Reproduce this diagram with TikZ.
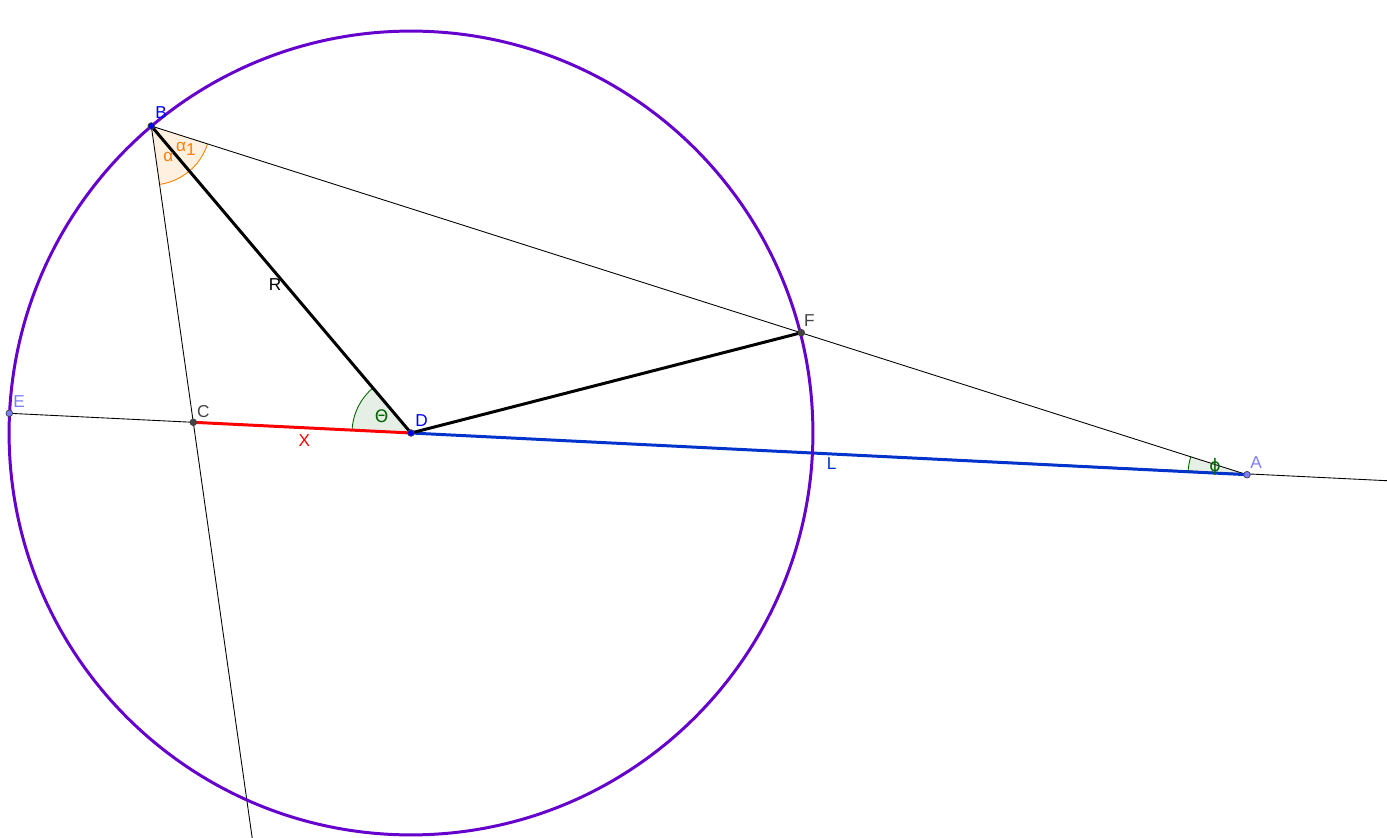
\documentclass[tikz,border=0pt]{standalone}
\usepackage{fontspec}
\setmainfont{Liberation Sans}
\newfontfamily\greekfont{DejaVu Sans}
\usetikzlibrary{angles,positioning}
\definecolor{circlecol}{HTML}{6600CC}
\definecolor{lcol}{HTML}{0033CC}
\definecolor{ptblue}{HTML}{0000FF}
\definecolor{ptlight}{HTML}{7D7DFF}
\definecolor{ptgray}{HTML}{444444}
\definecolor{anggreen}{HTML}{006400}
\definecolor{angorange}{HTML}{FF7F00}

\begin{document}
\begin{tikzpicture}[x=0.02cm, y=-0.02cm, font=\fontsize{9.8}{11}\selectfont]
    \tikzstyle{point}=[shape=circle, draw=black!75, line width=0.4pt, inner sep=0pt, minimum size=3.8pt];
    \tikzstyle{thin}=[black, line width=0.5pt];
    \tikzstyle{seg}=[line width=1.7pt];
    \tikzstyle{angarc}=[angle radius=1.18cm, line width=0.5pt];

    \useasboundingbox (0,0) rectangle (1387,838);

    % points
    \coordinate (D) at (411,433);
    \coordinate (B) at (151.3,126);
    \coordinate (F) at (801.3,332.7);
    \coordinate (A) at (1247,474.7);
    \coordinate (E) at (9.3,413.3);
    \coordinate (C) at (193.3,422.3);
    \coordinate (eright) at (1387,480.7);
    \coordinate (cbot) at (252.2,838);

    % angles
    \pic[angarc, draw=anggreen, fill=anggreen!10] {angle = B--D--C};
    \pic[angarc, draw=anggreen, fill=anggreen!10] {angle = B--A--E};
    \pic[angarc, draw=angorange, fill=angorange!12] {angle = C--B--A};

    % lines
    \draw[thin] (E) -- (eright);
    \draw[thin] (B) -- (A);
    \draw[thin] (B) -- (cbot);

    \draw[seg, red] (C) -- (D);
    \draw[seg, lcol] (D) -- (A);
    \draw[seg, black] (D) -- (B);
    \draw[seg, black] (D) -- (F);

    \draw[circlecol, line width=1.7pt] (D) circle (8.04cm);

    % point marks
    \node[point, fill=ptblue] (pB) at (B) {};
    \node[point, fill=ptblue] (pD) at (D) {};
    \node[point, fill=ptlight] (pA) at (A) {};
    \node[point, fill=ptlight] (pE) at (E) {};
    \node[point, fill=ptgray] (pC) at (C) {};
    \node[point, fill=ptgray] (pF) at (F) {};

    % labels
    \node[ptblue] (lB) at (161,113) {B};
    \node[ptblue] (lD) at (421.7,420.7) {D};
    \node[ptlight] (lA) at (1256,462.7) {A};
    \node[ptlight] (lE) at (19,401.7) {E};
    \node[ptgray] (lC) at (203.3,411.7) {C};
    \node[ptgray] (lF) at (809.3,321) {F};
    \node[black] (lR) at (275,285) {R};
    \node[red] (lX) at (304.3,440.7) {X};
    \node[lcol] (lL) at (831.7,464) {L};
    \node[anggreen] (lT) at (381.7,416) {\greekfont Θ};
    \node[anggreen] (lP) at (1215,466.7) {\greekfont ϕ};
    \node[angorange] (la) at (168.3,157.3) {α};
    \node[angorange] (la1) at (186,149) {α\raisebox{-0.45ex}{1}};
\end{tikzpicture}
\end{document}
